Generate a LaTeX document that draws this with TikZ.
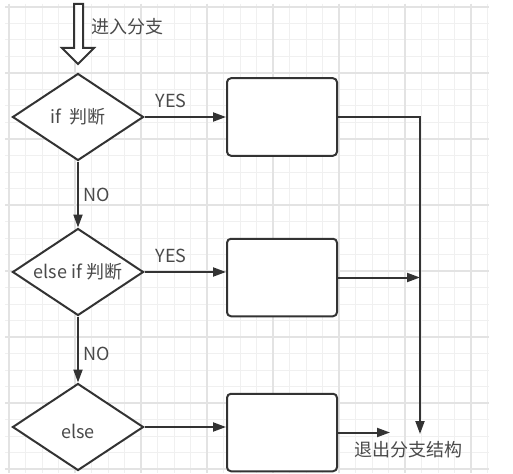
\documentclass[tikz,border=0pt]{standalone}
\usepackage{fontspec}
\setmainfont{Noto Sans CJK SC}
\usetikzlibrary{shapes.geometric,arrows.meta,calc}
\definecolor{ln}{HTML}{333333}
\definecolor{tx}{HTML}{4A4A4A}
\definecolor{gmin}{HTML}{F0F0F0}
\definecolor{gmaj}{HTML}{E3E3E3}
\begin{document}
\begin{tikzpicture}[x=1pt,y=-1pt,
  dec/.style={diamond,draw=ln,line width=2pt,aspect=1.5,inner sep=0pt,
    minimum width=131pt,minimum height=87pt,fill=white,text=tx,
    font=\fontsize{18}{20}\selectfont},
  proc/.style={rectangle,rounded corners=4pt,draw=ln,line width=2pt,fill=white,
    minimum width=110pt,minimum height=77.5pt},
  conn/.style={draw=ln,line width=2pt,-{Triangle[length=13pt,width=9pt]}},
  lab/.style={text=tx,font=\fontsize{18}{20}\selectfont,inner sep=0pt}]
\useasboundingbox (0,0) rectangle (513,473);
\fill[white] (0,0) rectangle (513,473);
% grid
\foreach \k in {0,...,29} \draw[gmin,line width=1pt] ({9+16.5*\k},4) -- ({9+16.5*\k},473);
\foreach \k in {0,...,28} \draw[gmin,line width=1pt] (5,{7+16.5*\k}) -- (489,{7+16.5*\k});
\foreach \k in {0,4,...,28} \draw[gmaj,line width=1.2pt] ({9+16.5*\k},4) -- ({9+16.5*\k},473);
\foreach \k in {0,4,...,28} \draw[gmaj,line width=1.2pt] (5,{7+16.5*\k}) -- (489,{7+16.5*\k});
% entry hollow arrow
\draw[ln,line width=2pt,fill=white,line join=miter]
  (74,4) -- (83,4) -- (83,48) -- (94,48) -- (78,64) -- (62,48) -- (74,48) -- cycle;
\node[lab] (entry) at (127,27) {进入分支};
% decisions
\node[dec] (d1) at (78,117) {if\ \ 判断};
\node[dec] (d2) at (78,272) {else if 判断};
\node[dec] (d3) at (78,427) {\raisebox{0pt}[\dimexpr\height+8pt\relax][\depth]{else}};
% process boxes
\node[proc] (b1) at (282,117) {};
\node[proc] (b2) at (282,277.5) {};
\node[proc] (b3) at (282,432.5) {};
% connectors
\draw[conn] (d1.east) -- (d1.east -| b1.west);
\draw[conn] (d2.east) -- (d2.east -| b2.west);
\draw[conn] (d3.east) -- (d3.east -| b3.west);
\draw[conn] (d1.south) -- (d2.north);
\draw[conn] (d2.south) -- (d3.north);
\coordinate (ex) at (420,434);
\coordinate (e3) at (390,432.5);
\draw[conn] (b1.east) -| (ex);
\draw[conn] (b2.east) -- (b2.east -| ex);
\draw[conn] (b3.east) -- (e3);
\node[lab] (ext) at (408,450) {退出分支结构};
% labels
\node[lab] (y1) at (171,101) {YES};
\node[lab] (y2) at (171,256) {YES};
\node[lab] (n1) at (97,195) {NO};
\node[lab] (n2) at (97,354) {NO};
\end{tikzpicture}
\end{document}
